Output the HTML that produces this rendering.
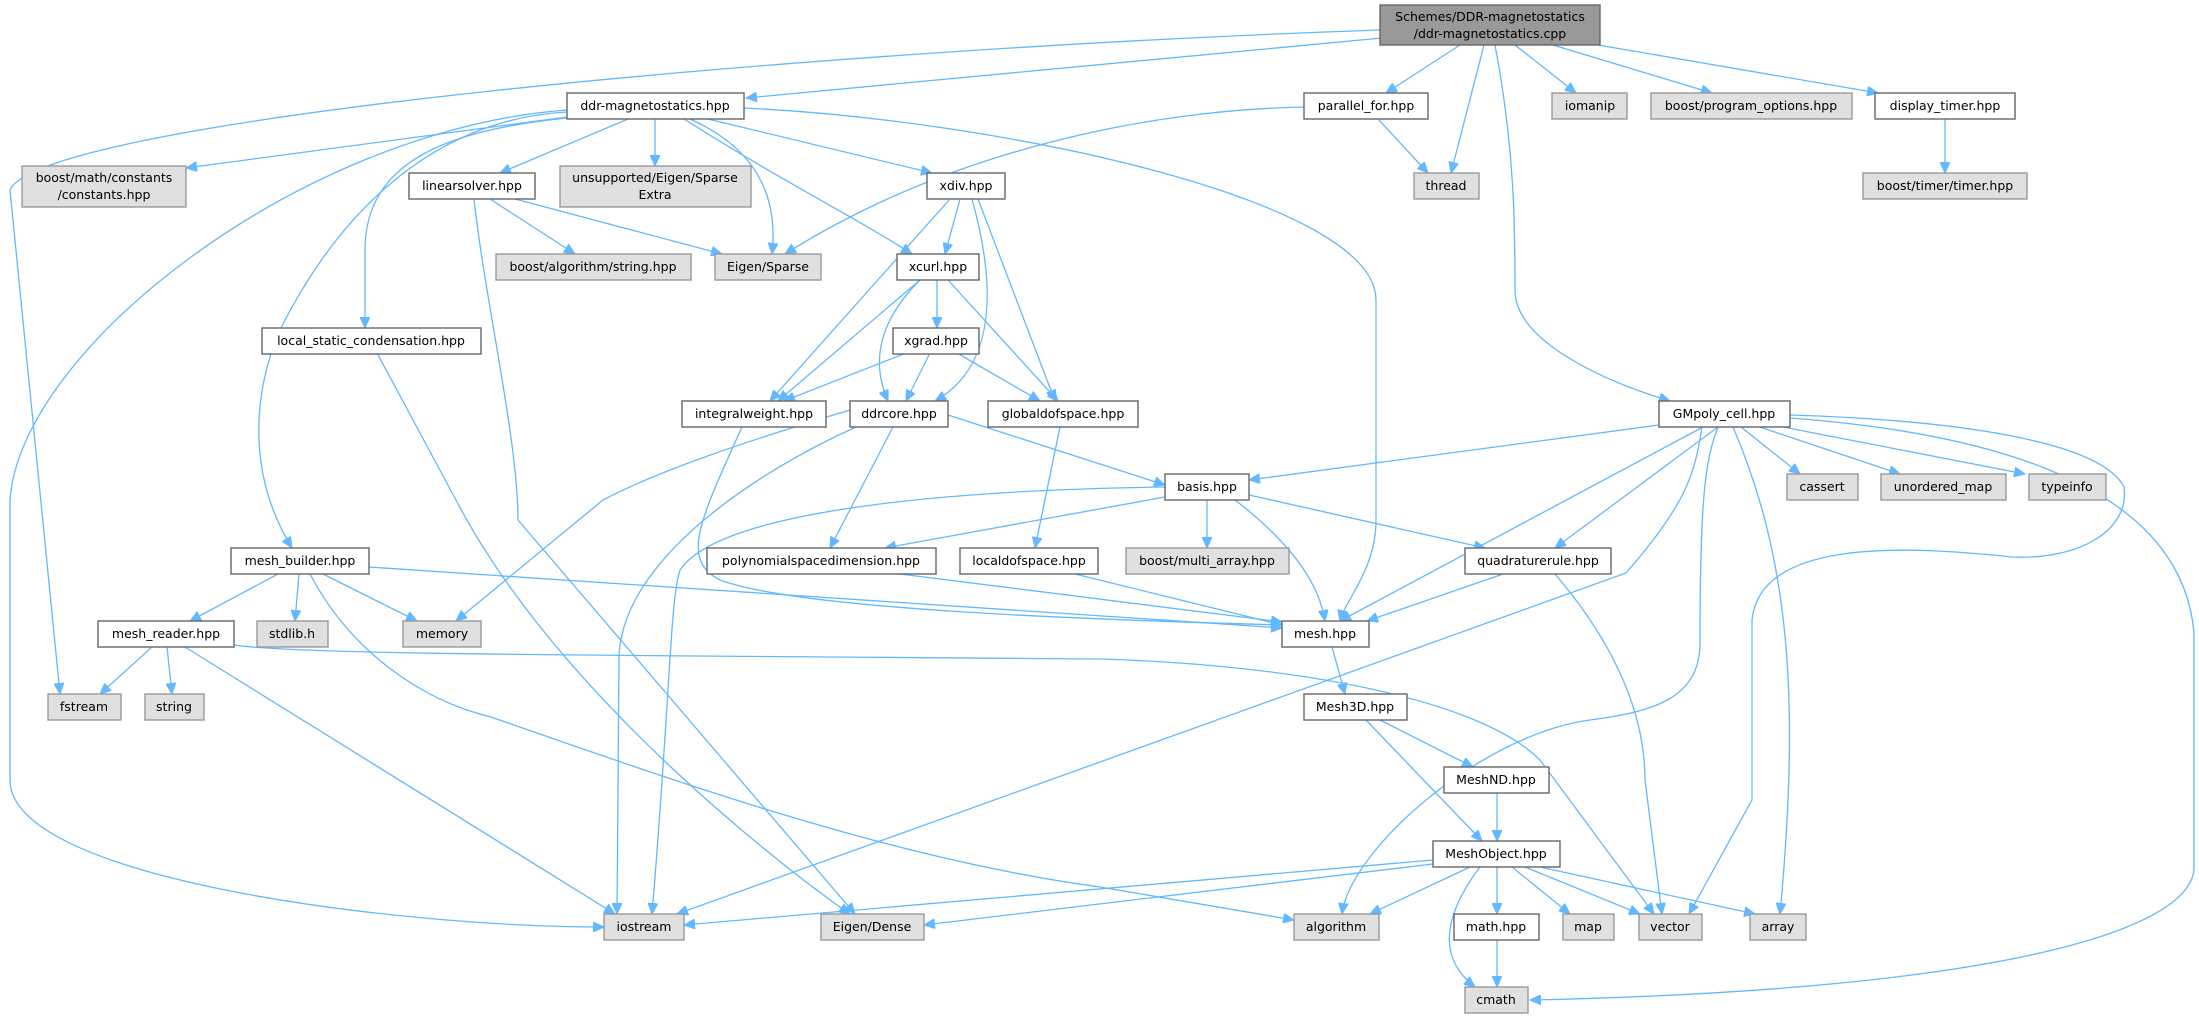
<!DOCTYPE html>
<html><head><meta charset="utf-8"><style>
html,body{margin:0;padding:0;background:#fff;}
svg{display:block;}
text{font-family:"DejaVu Sans","Liberation Sans",sans-serif;font-size:12.5px;fill:#000;text-anchor:middle;}
.w{fill:#fff;stroke:#666;stroke-width:1.4;}
.g{fill:#e0e0e0;stroke:#999;stroke-width:1.4;}
.r{fill:#999;stroke:#666;stroke-width:1.4;}
path{fill:none;stroke:#63b8ff;stroke-width:1.3;marker-end:url(#a);}
</style></head><body>
<svg width="2199" height="1019" viewBox="0 0 2199 1019" xmlns="http://www.w3.org/2000/svg">
<defs><marker id="a" markerUnits="userSpaceOnUse" markerWidth="12" markerHeight="10" refX="11" refY="5" orient="auto"><path d="M0,0 L11,5 L0,10 Z" style="fill:#63b8ff;stroke:#63b8ff;stroke-width:1;marker-end:none"/></marker></defs>

<!-- edges -->
<path d="M1382,38 L746,98"/>
<path d="M1460,45 L1386,93"/>
<path d="M1484,45 L1451,173"/>
<path d="M1495,45 C1515,150 1515,230 1515,290 C1515,340 1600,380 1670,401"/>
<path d="M1515,45 L1576,93"/>
<path d="M1553,45 L1712,93"/>
<path d="M1598,45 L1878,93"/>
<path d="M1380,30 C800,50 40,120 10,190 L60,694"/>
<path d="M1945,119 L1945,173"/>
<path d="M1378,119 L1428,173"/>
<path d="M1304,107 C1150,110 950,150 785,254"/>
<path d="M744,108 C1000,120 1376,200 1376,300 L1376,520 C1376,570 1345,600 1340,621"/>
<path d="M567,117 L186,168"/>
<path d="M628,119 L500,173"/>
<path d="M655,119 L655,166"/>
<path d="M690,119 C760,150 778,200 772,254"/>
<path d="M684,119 C780,180 860,220 912,254"/>
<path d="M708,119 L932,173"/>
<path d="M567,118 C450,130 365,160 365,250 L365,328"/>
<path d="M567,112 C420,120 330,230 280,330 C250,400 250,480 292,548"/>
<path d="M567,110 C300,130 20,350 10,500 L10,780 C10,880 400,927 604,927"/>
<path d="M490,199 L575,254"/>
<path d="M515,199 L722,254"/>
<path d="M474,199 C485,300 518,440 518,520 L855,914"/>
<path d="M377,353 L456,500 C560,700 800,880 850,914"/>
<path d="M950,199 L770,401"/>
<path d="M960,199 L945,254"/>
<path d="M972,199 C1000,300 990,370 935,401"/>
<path d="M978,199 L1055,401"/>
<path d="M920,280 L778,401"/>
<path d="M937,280 L937,328"/>
<path d="M920,280 C880,320 870,360 888,401"/>
<path d="M948,280 L1058,401"/>
<path d="M906,353 L784,401"/>
<path d="M930,353 L906,401"/>
<path d="M957,353 L1040,401"/>
<path d="M742,427 C700,520 680,560 720,580 C800,610 1100,620 1282,625"/>
<path d="M948,415 L1165,485"/>
<path d="M893,427 L830,548"/>
<path d="M850,410 C750,440 660,470 603,500 L456,621"/>
<path d="M856,427 C760,470 619,560 619,660 L617,914"/>
<path d="M1165,487 C950,490 720,510 680,570 C670,600 670,700 652,914"/>
<path d="M1060,427 L1035,548"/>
<path d="M1075,574 L1282,625"/>
<path d="M900,574 L1282,622"/>
<path d="M369,567 L1282,628"/>
<path d="M278,574 L190,621"/>
<path d="M299,574 L295,621"/>
<path d="M323,574 L417,621"/>
<path d="M310,574 C350,650 420,700 491,717 C700,790 900,860 1100,887 L1294,920"/>
<path d="M152,647 L100,694"/>
<path d="M167,647 L172,694"/>
<path d="M185,647 L615,914"/>
<path d="M234,645 C300,655 600,655 1100,659 C1300,665 1480,700 1540,760 L1654,914"/>
<path d="M1165,497 L885,548"/>
<path d="M1207,500 L1207,548"/>
<path d="M1235,500 C1300,550 1320,590 1325,621"/>
<path d="M1249,495 L1485,548"/>
<path d="M1659,425 L1249,480"/>
<path d="M1703,427 L1340,621"/>
<path d="M1718,427 L1555,548"/>
<path d="M1702,427 C1695,470 1690,500 1626,573 L677,914"/>
<path d="M1718,427 C1705,460 1700,500 1700,643 C1700,700 1650,712 1590,720 C1480,735 1350,850 1342,914"/>
<path d="M1733,427 C1790,560 1800,700 1780,914"/>
<path d="M1790,415 C1950,420 2100,440 2124,487 C2130,530 2080,560 2012,557 C1900,545 1760,540 1752,620 L1752,800 L1689,914"/>
<path d="M1790,418 C1950,430 2180,470 2194,633 L2194,867 C2194,930 2000,990 1530,1000"/>
<path d="M1741,427 L1800,474"/>
<path d="M1760,427 L1900,474"/>
<path d="M1783,427 L2025,474"/>
<path d="M1503,574 L1367,621"/>
<path d="M1555,574 C1620,650 1645,720 1645,780 L1662,914"/>
<path d="M1332,647 L1345,694"/>
<path d="M1380,720 L1473,767"/>
<path d="M1366,720 L1482,841"/>
<path d="M1497,793 L1497,841"/>
<path d="M1433,860 L684,925"/>
<path d="M1433,864 L924,925"/>
<path d="M1470,867 L1370,914"/>
<path d="M1497,867 L1497,914"/>
<path d="M1480,867 C1440,920 1440,960 1475,987"/>
<path d="M1512,867 L1570,914"/>
<path d="M1525,867 L1640,914"/>
<path d="M1540,867 L1755,914"/>
<path d="M1497,940 L1497,987"/>

<!-- nodes -->
<rect class="r" x="1380" y="5" width="220" height="40"/><text x="1490" y="21">Schemes/DDR-magnetostatics</text><text x="1490" y="38">/ddr-magnetostatics.cpp</text>
<rect class="w" x="567" y="93" width="177" height="26"/><text x="655" y="110">ddr-magnetostatics.hpp</text>
<rect class="w" x="1304" y="93" width="124" height="26"/><text x="1366" y="110">parallel_for.hpp</text>
<rect class="g" x="1552" y="93" width="75" height="26"/><text x="1590" y="110">iomanip</text>
<rect class="g" x="1651" y="93" width="201" height="26"/><text x="1751" y="110">boost/program_options.hpp</text>
<rect class="w" x="1875" y="93" width="140" height="26"/><text x="1945" y="110">display_timer.hpp</text>
<rect class="g" x="22" y="166" width="164" height="41"/><text x="104" y="182">boost/math/constants</text><text x="104" y="199">/constants.hpp</text>
<rect class="w" x="409" y="173" width="126" height="26"/><text x="472" y="190">linearsolver.hpp</text>
<rect class="g" x="560" y="166" width="191" height="41"/><text x="655" y="182">unsupported/Eigen/Sparse</text><text x="655" y="199">Extra</text>
<rect class="w" x="927" y="173" width="78" height="26"/><text x="966" y="190">xdiv.hpp</text>
<rect class="g" x="1414" y="173" width="65" height="26"/><text x="1446" y="190">thread</text>
<rect class="g" x="1863" y="173" width="164" height="26"/><text x="1945" y="190">boost/timer/timer.hpp</text>
<rect class="g" x="496" y="254" width="195" height="26"/><text x="593" y="271">boost/algorithm/string.hpp</text>
<rect class="g" x="715" y="254" width="106" height="26"/><text x="768" y="271">Eigen/Sparse</text>
<rect class="w" x="897" y="254" width="82" height="26"/><text x="938" y="271">xcurl.hpp</text>
<rect class="w" x="262" y="328" width="219" height="26"/><text x="371" y="345">local_static_condensation.hpp</text>
<rect class="w" x="893" y="328" width="86" height="26"/><text x="936" y="345">xgrad.hpp</text>
<rect class="w" x="682" y="401" width="144" height="26"/><text x="754" y="418">integralweight.hpp</text>
<rect class="w" x="850" y="401" width="98" height="26"/><text x="899" y="418">ddrcore.hpp</text>
<rect class="w" x="988" y="401" width="150" height="26"/><text x="1063" y="418">globaldofspace.hpp</text>
<rect class="w" x="1659" y="401" width="131" height="26"/><text x="1724" y="418">GMpoly_cell.hpp</text>
<rect class="w" x="1165" y="474" width="84" height="26"/><text x="1207" y="491">basis.hpp</text>
<rect class="g" x="1787" y="474" width="71" height="26"/><text x="1822" y="491">cassert</text>
<rect class="g" x="1881" y="474" width="125" height="26"/><text x="1943" y="491">unordered_map</text>
<rect class="g" x="2029" y="474" width="77" height="26"/><text x="2067" y="491">typeinfo</text>
<rect class="w" x="231" y="548" width="138" height="26"/><text x="300" y="565">mesh_builder.hpp</text>
<rect class="w" x="707" y="548" width="229" height="26"/><text x="821" y="565">polynomialspacedimension.hpp</text>
<rect class="w" x="960" y="548" width="138" height="26"/><text x="1029" y="565">localdofspace.hpp</text>
<rect class="g" x="1126" y="548" width="163" height="26"/><text x="1207" y="565">boost/multi_array.hpp</text>
<rect class="w" x="1465" y="548" width="146" height="26"/><text x="1538" y="565">quadraturerule.hpp</text>
<rect class="w" x="98" y="621" width="136" height="26"/><text x="166" y="638">mesh_reader.hpp</text>
<rect class="g" x="257" y="621" width="71" height="26"/><text x="292" y="638">stdlib.h</text>
<rect class="g" x="403" y="621" width="78" height="26"/><text x="442" y="638">memory</text>
<rect class="w" x="1282" y="621" width="87" height="26"/><text x="1325" y="638">mesh.hpp</text>
<rect class="g" x="48" y="694" width="73" height="26"/><text x="84" y="711">fstream</text>
<rect class="g" x="145" y="694" width="59" height="26"/><text x="174" y="711">string</text>
<rect class="w" x="1304" y="694" width="103" height="26"/><text x="1355" y="711">Mesh3D.hpp</text>
<rect class="w" x="1444" y="767" width="105" height="26"/><text x="1496" y="784">MeshND.hpp</text>
<rect class="w" x="1433" y="841" width="127" height="26"/><text x="1496" y="858">MeshObject.hpp</text>
<rect class="g" x="604" y="914" width="80" height="26"/><text x="644" y="931">iostream</text>
<rect class="g" x="821" y="914" width="103" height="26"/><text x="872" y="931">Eigen/Dense</text>
<rect class="g" x="1294" y="914" width="85" height="26"/><text x="1336" y="931">algorithm</text>
<rect class="w" x="1454" y="914" width="85" height="26"/><text x="1496" y="931">math.hpp</text>
<rect class="g" x="1563" y="914" width="51" height="26"/><text x="1588" y="931">map</text>
<rect class="g" x="1639" y="914" width="63" height="26"/><text x="1670" y="931">vector</text>
<rect class="g" x="1750" y="914" width="56" height="26"/><text x="1778" y="931">array</text>
<rect class="g" x="1465" y="987" width="63" height="26"/><text x="1496" y="1004">cmath</text>
</svg>
</body></html>
